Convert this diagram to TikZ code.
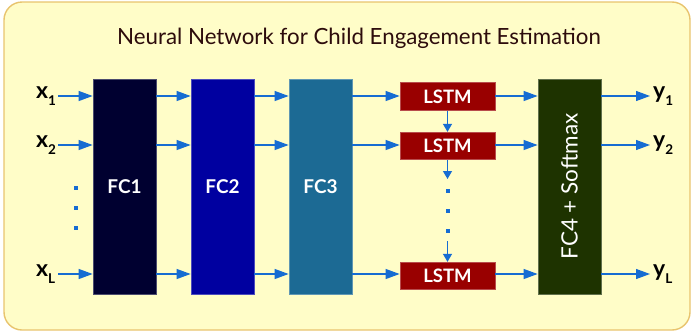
\documentclass[tikz,border=0pt]{standalone}
\usepackage{fontspec}
\setmainfont{Lato}
\usetikzlibrary{arrows.meta}
\definecolor{bgfill}{RGB}{255,253,200}
\definecolor{bgedge}{RGB}{232,196,110}
\definecolor{titlecol}{RGB}{45,12,12}
\definecolor{arrowcol}{RGB}{22,108,210}
\definecolor{fcone}{RGB}{0,0,48}
\definecolor{fctwo}{RGB}{0,0,160}
\definecolor{fcthree}{RGB}{28,106,148}
\definecolor{fcfour}{RGB}{30,51,0}
\definecolor{lstmcol}{RGB}{153,0,0}
\tikzset{
  layer/.style={draw=#1!70!white, line width=0.8pt, minimum width=63pt, minimum height=215pt,
    inner sep=0pt, text=white, font=\fontsize{19}{19}\selectfont\bfseries},
  lstmbox/.style={draw=lstmcol!70!white, fill=lstmcol, line width=0.8pt, minimum width=95pt,
    minimum height=27.5pt, inner sep=0pt, text=white, font=\fontsize{18.5}{18.5}\selectfont\bfseries},
  conn/.style={draw=arrowcol, line width=1.2pt, -{Triangle[length=14pt,width=10pt]}},
  sconn/.style={draw=arrowcol, line width=1.2pt, -{Triangle[length=8pt,width=9pt]}},
  dotmark/.style={fill=arrowcol, minimum size=4pt, inner sep=0pt, draw=none},
  varlabel/.style={anchor=base west, inner sep=0pt, font=\fontsize{23}{23}\selectfont\bfseries}
}
\newcommand{\sublbl}[2]{#1\raisebox{-7.5pt}{\fontsize{13.5}{13.5}\selectfont #2}}
\begin{document}
\begin{tikzpicture}[x=1pt,y=-1pt]
\useasboundingbox (0,0) rectangle (693,335);
% panel
\draw[fill=bgfill, draw=bgedge, line width=1.4pt, rounded corners=18pt] (4,2) rectangle (690,330);
\node[text=titlecol, font=\fontsize{22.3}{22.3}\selectfont] (title) at (359,38) {Neural Network for Child Engagement Estimation};

% layers
\node[layer=fcone, fill=fcone] (fc1) at (124.5,186.5) {FC1};
\node[layer=fctwo, fill=fctwo] (fc2) at (222.5,186.5) {FC2};
\node[layer=fcthree, fill=fcthree] (fc3) at (320.5,186.5) {FC3};
\node[layer=fcfour, fill=fcfour, font=\fontsize{22.5}{22.5}\selectfont] (fc4) at (569.5,186.5) {\rotatebox{90}{FC4 + Softmax}};

\node[lstmbox] (l1) at (447.5,96.5) {LSTM};
\node[lstmbox] (l2) at (447.5,146) {LSTM};
\node[lstmbox] (l3) at (447.5,276) {LSTM};

% inputs and outputs
\node[varlabel] (x1) at (36,98) {\sublbl{x}{1}};
\node[varlabel] (x2) at (36,147) {\sublbl{x}{2}};
\node[varlabel] (xL) at (36,276) {\sublbl{x}{L}};
\node[varlabel] (y1) at (653,98) {\sublbl{y}{1}};
\node[varlabel] (y2) at (653,147) {\sublbl{y}{2}};
\node[varlabel] (yL) at (653,276) {\sublbl{y}{L}};

\coordinate (in1) at (58,96);
\coordinate (in2) at (58,145);
\coordinate (inL) at (58,274);
\coordinate (out1) at (650,96);
\coordinate (out2) at (650,145);
\coordinate (outL) at (650,274);

\foreach \r in {1,2,L}{
  \draw[conn] (in\r) -- (in\r -| fc1.west);
  \draw[conn] (in\r -| fc1.east) -- (in\r -| fc2.west);
  \draw[conn] (in\r -| fc2.east) -- (in\r -| fc3.west);
  \draw[conn] (fc4.east |- out\r) -- (out\r);
}
\draw[conn] (in1 -| fc3.east) -- (l1.west |- in1);
\draw[conn] (in2 -| fc3.east) -- (l2.west |- in2);
\draw[conn] (inL -| fc3.east) -- (l3.west |- inL);
\draw[conn] (l1.east |- in1) -- (fc4.west |- in1);
\draw[conn] (l2.east |- in2) -- (fc4.west |- in2);
\draw[conn] (l3.east |- inL) -- (fc4.west |- inL);

% recurrent chain
\coordinate (gapA) at (447.5,179);
\coordinate (gapB) at (447.5,241);
\draw[sconn] (l1.south) -- (l2.north);
\draw[sconn] (l2.south) -- (gapA);
\draw[sconn] (gapB) -- (l3.north);
\node[dotmark] (d1) at (447.5,191) {};
\node[dotmark] (d2) at (447.5,211) {};
\node[dotmark] (d3) at (447.5,231) {};

% elided inputs
\node[dotmark] (e1) at (76,188) {};
\node[dotmark] (e2) at (76,208) {};
\node[dotmark] (e3) at (76,228) {};
\end{tikzpicture}
\end{document}
